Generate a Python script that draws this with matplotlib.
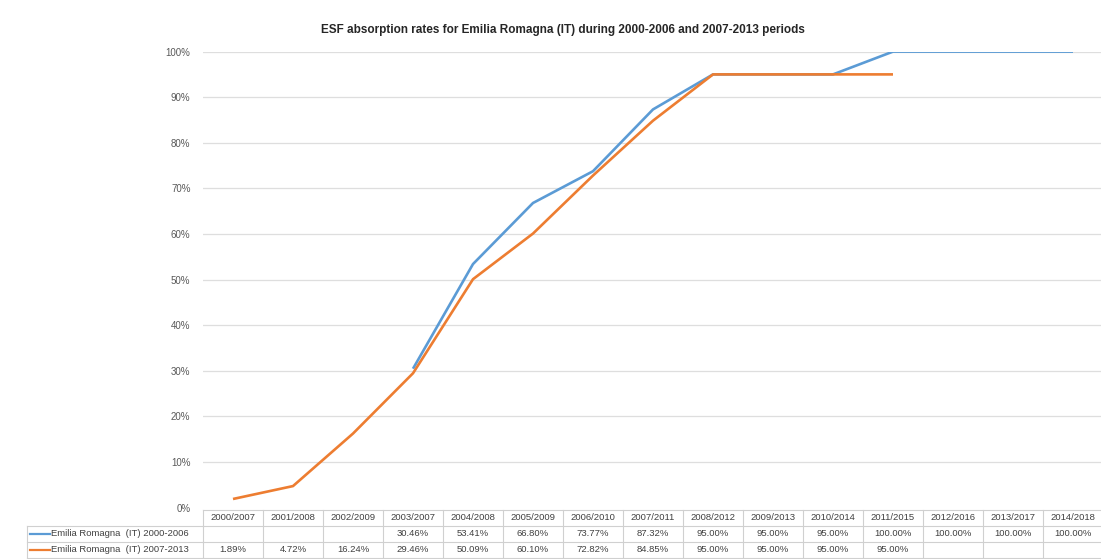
import numpy as np
import matplotlib
matplotlib.use("Agg")
import matplotlib.pyplot as plt
from matplotlib.transforms import blended_transform_factory
from matplotlib.ticker import PercentFormatter

periods = ["2000/2007", "2001/2008", "2002/2009", "2003/2007", "2004/2008",
           "2005/2009", "2006/2010", "2007/2011", "2008/2012", "2009/2013",
           "2010/2014", "2011/2015", "2012/2016", "2013/2017", "2014/2018"]
rates_0006 = [None, None, None, 30.46, 53.41, 66.80, 73.77, 87.32, 95.00,
              95.00, 95.00, 100.00, 100.00, 100.00, 100.00]
rates_0713 = [1.89, 4.72, 16.24, 29.46, 50.09, 60.10, 72.82, 84.85, 95.00,
              95.00, 95.00, 95.00, None, None, None]
series_names = ["Emilia Romagna  (IT) 2000-2006", "Emilia Romagna  (IT) 2007-2013"]
series_colors = ["#5b9bd5", "#ed7d31"]

plt.rcParams['font.family'] = ['Liberation Sans', 'DejaVu Sans']

W, H = 1101, 559
fig = plt.figure(figsize=(W / 100, H / 100), dpi=100)
y0, y100 = 507.6, 51.6
ax = fig.add_axes([203 / W, 1 - y0 / H, 900 / W, (y0 - y100) / H])

x = np.arange(len(periods))
ax.set_xlim(-0.5, len(periods) - 0.5)
ax.set_ylim(0, 1)
for v in np.arange(0.1, 1.01, 0.1):
    ax.axhline(v, color="#dedede", lw=0.9, zorder=0)

for vals, col in zip([rates_0006, rates_0713], series_colors):
    y = np.array([np.nan if v is None else v / 100 for v in vals])
    ax.plot(x, y, color=col, lw=1.9, solid_capstyle="butt", zorder=3)

for s in ax.spines.values():
    s.set_visible(False)
ax.set_xticks([])
ax.set_yticks(np.arange(0, 1.01, 0.1))
ax.yaxis.set_major_formatter(PercentFormatter(1.0, decimals=0))
ax.tick_params(axis="y", length=0, pad=9, labelsize=7, labelcolor="#595959")

fig.text(0.511, 1 - 30 / H, "ESF absorption rates for Emilia Romagna (IT) during 2000-2006 and 2007-2013 periods",
         ha="center", va="center", fontsize=8.5, fontweight="bold", color="#262626")

# data table under the plot
def ay(py):
    return (y0 - py) / (y0 - y100)

trans = blended_transform_factory(ax.transData, ax.transAxes)
rows = [510, 526, 542, 558]
grid_kw = dict(color="#d0d0d0", lw=0.8, clip_on=False)
left = -0.5
right = len(periods) - 0.5
for r in rows:
    ax.plot([left, right], [ay(r), ay(r)], transform=trans, **grid_kw)
for k in range(len(periods) + 1):
    ax.plot([left + k, left + k], [ay(rows[0]), ay(rows[-1])], transform=trans, **grid_kw)

lab_left = (27 - 203) / 900
for r in rows[1:]:
    ax.plot([lab_left, 0], [ay(r), ay(r)], transform=ax.transAxes, **grid_kw)
ax.plot([lab_left, lab_left], [ay(rows[1]), ay(rows[-1])], transform=ax.transAxes, **grid_kw)

txt_kw = dict(fontsize=6.8, color="#404040", va="center", clip_on=False)
for i, p in enumerate(periods):
    ax.text(i, ay((rows[0] + rows[1]) / 2), p, transform=trans, ha="center", **txt_kw)
for j, (vals, name, col) in enumerate(zip([rates_0006, rates_0713], series_names, series_colors)):
    yc = ay((rows[j + 1] + rows[j + 2]) / 2)
    for i, v in enumerate(vals):
        if v is not None:
            ax.text(i, yc, f"{v:.2f}%", transform=trans, ha="center", **txt_kw)
    ax.plot([(30 - 203) / 900, (50 - 203) / 900], [yc, yc], transform=ax.transAxes,
            color=col, lw=1.6, clip_on=False)
    ax.text((51 - 203) / 900, yc, name, transform=ax.transAxes, ha="left", **txt_kw)

fig.savefig("out.png", dpi=100, facecolor="white")
